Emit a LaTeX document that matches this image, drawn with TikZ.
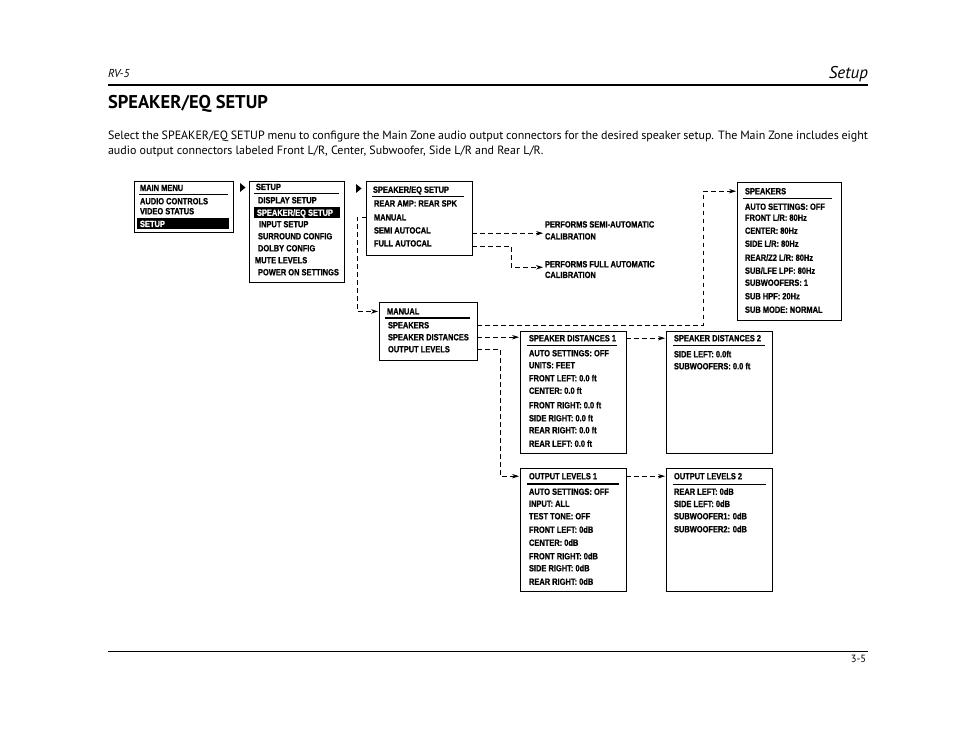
\documentclass[tikz,border=0pt]{standalone}
\usepackage{fontspec}
\setmainfont{PT Sans}
\newfontfamily\cond[FakeStretch=0.83,FakeBold=0.8]{Liberation Sans}
\usetikzlibrary{arrows.meta,calc}
\tikzset{
  bx/.style={draw, line width=0.9pt, anchor=north west, inner sep=0pt, outer sep=0pt},
  it/.style={anchor=base west, inner sep=0pt, outer sep=0pt, font=\cond\bfseries\fontsize{9}{9}\selectfont},
  hl/.style={it, text=white},
  ul/.style={line width=0.8pt},
  ulk/.style={line width=2pt},
  dl/.style={dash pattern=on 4.5pt off 3.5pt, line width=0.8pt},
  ar/.style={-{Stealth[length=7pt,width=4.5pt]}},
  hdr/.style={anchor=base west, inner sep=0pt, outer sep=0pt},
}
\begin{document}
\begin{tikzpicture}[x=1pt,y=-1pt]
\useasboundingbox (0,0) rectangle (954,738);
\fill[white] (0,0) rectangle (954,738);
% ---------- page header ----------
\node[hdr, font=\itshape\fontsize{11.5}{11.5}\selectfont] (rv) at (108,77.5) {RV-5};
\node[hdr, anchor=base east, font=\itshape\fontsize{17}{17}\selectfont] (setup) at (868,79) {Setup};
\draw[line width=1.1pt] (108,85) -- (868,85);
\node[hdr, font=\bfseries\fontsize{18.5}{18.5}\selectfont] (head) at (108,109) {SPEAKER/EQ SETUP};
\node[hdr, font=\fontsize{12}{15}\selectfont] (body1) at (108,140) {\makebox[760pt][s]{Select the SPEAKER/EQ SETUP menu to configure the Main Zone audio output connectors for the desired speaker setup. The Main Zone includes eight}};
\node[hdr, font=\fontsize{12}{15}\selectfont] (body2) at (108,155) {audio output connectors labeled Front L/R, Center, Subwoofer, Side L/R and Rear L/R.};
% ---------- page footer ----------
\draw[line width=0.8pt] (108,651) -- (868,651);
\node[hdr, anchor=base east, font=\fontsize{10.5}{10.5}\selectfont] (pg) at (866,662) {3-5};

% ---------- MAIN MENU ----------
\node[bx, minimum width=99pt, minimum height=51pt] (mm) at (134,181) {};
\fill (137,218.5) rectangle (229,229);
\draw[ul, line width=1.3pt] (139,194.5) -- (228,194.5);
\node[it] (mmT) at (140,191) {MAIN MENU};
\node[it] (mm1) at (140,204.3) {AUDIO CONTROLS};
\node[it] (mm2) at (140,214.3) {VIDEO STATUS};
\node[hl] (mm3) at (140,227) {SETUP};
\fill (240,183) -- (245.5,187.5) -- (240,192) -- cycle;

% ---------- SETUP ----------
\node[bx, minimum width=95pt, minimum height=101pt] (st) at (249,181) {};
\draw[ul] (254,193.5) -- (339,193.5);
\fill (254,207) rectangle (340,218.5);
\node[it] (stT) at (256,190) {SETUP};
\node[it] (st1) at (258,203.3) {DISPLAY SETUP};
\node[hl] (st2) at (257,215.8) {SPEAKER/EQ SETUP};
\node[it] (st3) at (259,227.3) {INPUT SETUP};
\node[it] (st4) at (258,239.3) {SURROUND CONFIG};
\node[it] (st5) at (258,251.3) {DOLBY CONFIG};
\node[it] (st6) at (255,263.3) {MUTE LEVELS};
\node[it] (st7) at (258,275.3) {POWER ON SETTINGS};
\fill (356,184) -- (361.5,188.5) -- (356,193) -- cycle;

% ---------- SPEAKER/EQ SETUP ----------
\node[bx, minimum width=106pt, minimum height=74pt] (eq) at (366,181) {};
\draw[ul] (372,196.5) -- (464,196.5);
\node[it] (eqT) at (373,192.8) {SPEAKER/EQ SETUP};
\node[it] (eq1) at (374,206.5) {REAR AMP: REAR SPK};
\node[it] (eq2) at (374,220.5) {MANUAL};
\node[it] (eq3) at (374,233.5) {SEMI AUTOCAL};
\node[it] (eq4) at (374,246.5) {FULL AUTOCAL};

\node[it] (pS1) at (545,227.5) {PERFORMS SEMI-AUTOMATIC};
\node[it] (pS2) at (545,239.5) {CALIBRATION};
\node[it] (pF1) at (545,267.3) {PERFORMS FULL AUTOMATIC};
\node[it] (pF2) at (545,278) {CALIBRATION};

% ---------- MANUAL ----------
\node[bx, minimum width=98pt, minimum height=58pt] (ma) at (379,302) {};
\draw[ulk] (385,318) -- (470,318);
\node[it] (maT) at (387,314.5) {MANUAL};
\node[it] (ma1) at (388,328.3) {SPEAKERS};
\node[it] (ma2) at (388,340.3) {SPEAKER DISTANCES};
\node[it] (ma3) at (388,352.3) {OUTPUT LEVELS};

% ---------- SPEAKERS ----------
\node[bx, minimum width=104pt, minimum height=138pt] (sp) at (737,182) {};
\draw[ul] (743,198.5) -- (832,198.5);
\node[it] (spT) at (745,194.3) {SPEAKERS};
\node[it] (sp1) at (745,209.8) {AUTO SETTINGS: OFF};
\node[it] (sp2) at (745,220.8) {FRONT L/R: 80Hz};
\node[it] (sp3) at (745,233.8) {CENTER: 80Hz};
\node[it] (sp4) at (745,246.8) {SIDE L/R: 80Hz};
\node[it] (sp5) at (745,260.8) {REAR/Z2 L/R: 80Hz};
\node[it] (sp6) at (745,273.8) {SUB/LFE LPF: 80Hz};
\node[it] (sp7) at (745,285.8) {SUBWOOFERS: 1};
\node[it] (sp8) at (745,299.3) {SUB HPF: 20Hz};
\node[it] (sp9) at (745,312.8) {SUB MODE: NORMAL};

% ---------- SPEAKER DISTANCES 1 ----------
\node[bx, minimum width=106pt, minimum height=122pt] (sdA) at (520,331) {};
\draw[ul] (527,345.5) -- (617,345.5);
\node[it] (sdAT) at (529,341.3) {SPEAKER DISTANCES 1};
\node[it] (sdA1) at (529,356.3) {AUTO SETTINGS: OFF};
\node[it] (sdA2) at (529,368.3) {UNITS: FEET};
\node[it] (sdA3) at (529,381.3) {FRONT LEFT: 0.0 ft};
\node[it] (sdA4) at (529,393.8) {CENTER: 0.0 ft};
\node[it] (sdA5) at (529,408.3) {FRONT RIGHT: 0.0 ft};
\node[it] (sdA6) at (529,421.3) {SIDE RIGHT: 0.0 ft};
\node[it] (sdA7) at (529,433.3) {REAR RIGHT: 0.0 ft};
\node[it] (sdA8) at (529,446.8) {REAR LEFT: 0.0 ft};

% ---------- SPEAKER DISTANCES 2 ----------
\node[bx, minimum width=106pt, minimum height=122pt] (sdB) at (666,331) {};
\draw[ul] (673,345.5) -- (765,345.5);
\node[it] (sdBT) at (674,341.3) {SPEAKER DISTANCES 2};
\node[it] (sdB1) at (674,357.3) {SIDE LEFT: 0.0ft};
\node[it] (sdB2) at (674,369.3) {SUBWOOFERS: 0.0 ft};

% ---------- OUTPUT LEVELS 1 ----------
\node[bx, minimum width=106pt, minimum height=123pt] (olA) at (520,468) {};
\draw[ulk] (527,483.5) -- (619,483.5);
\node[it] (olAT) at (529,479.3) {OUTPUT LEVELS 1};
\node[it] (olA1) at (529,494.8) {AUTO SETTINGS: OFF};
\node[it] (olA2) at (529,506.8) {INPUT: ALL};
\node[it] (olA3) at (529,519.3) {TEST TONE: OFF};
\node[it] (olA4) at (529,532.8) {FRONT LEFT: 0dB};
\node[it] (olA5) at (529,545.8) {CENTER: 0dB};
\node[it] (olA6) at (529,559.3) {FRONT RIGHT: 0dB};
\node[it] (olA7) at (529,571.3) {SIDE RIGHT: 0dB};
\node[it] (olA8) at (529,584.8) {REAR RIGHT: 0dB};

% ---------- OUTPUT LEVELS 2 ----------
\node[bx, minimum width=106pt, minimum height=123pt] (olB) at (666,468) {};
\draw[ul] (673,484) -- (766,484);
\node[it] (olBT) at (674,479.3) {OUTPUT LEVELS 2};
\node[it] (olB1) at (674,494.8) {REAR LEFT: 0dB};
\node[it] (olB2) at (674,507) {SIDE LEFT: 0dB};
\node[it] (olB3) at (674,519.3) {SUBWOOFER1: 0dB};
\node[it] (olB4) at (674,532.3) {SUBWOOFER2: 0dB};

% ---------- connectors ----------
\draw[dl,ar] (eq.west |- eq2) -- ++(-9,0) |- ([xshift=-1pt]ma.west |- maT);
\draw[dl,ar] (eq.east |- pS2.north) -- ([xshift=-2pt]pS2.north west);
\coordinate (fc) at ($(eq.east |- eq4.base)+(39,0)$);
\draw[dl,ar] (eq.east |- eq4.base) -- (fc) |- ([xshift=-2pt]pF1.base west);
\coordinate (spc) at ($(sp.west |- spT)+(-34,0)$);
\draw[dl,ar] (ma.east |- ma1) -| (spc) -- ([xshift=-1pt]sp.west |- spT);
\draw[dl,ar] (ma.east |- ma2) -- ([xshift=-1pt]sdA.west |- ma2);
\coordinate (olc) at ($(ma.east |- ma3)+(23,0)$);
\draw[dl,ar] (ma.east |- ma3) -- (olc) |- ([xshift=-1pt]olA.west |- olAT);
\draw[dl,ar] (sdA.east |- sdAT) -- ([xshift=-1pt]sdB.west |- sdAT);
\draw[dl,ar] (olA.east |- olAT) -- ([xshift=-1pt]olB.west |- olAT);
\end{tikzpicture}
\end{document}
